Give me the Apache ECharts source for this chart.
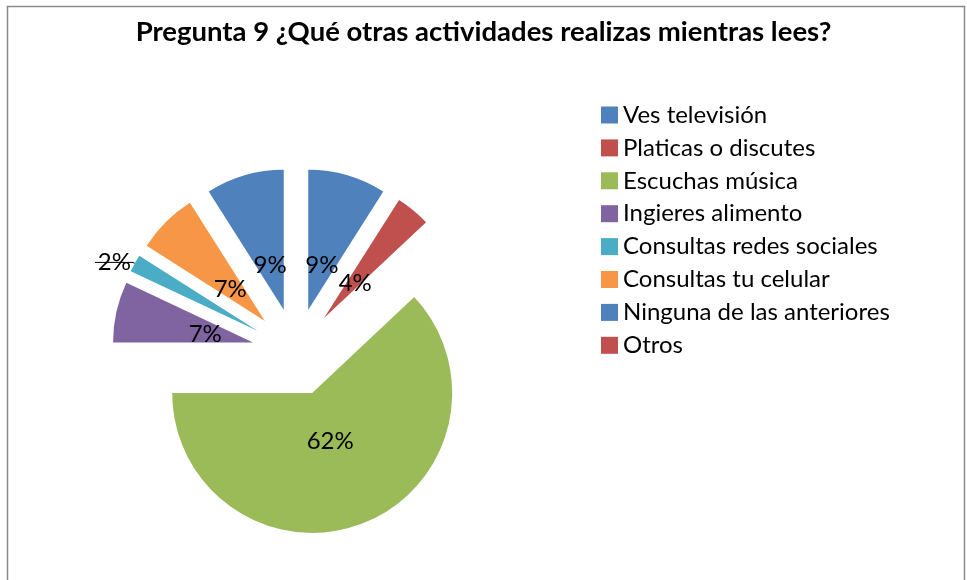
<!DOCTYPE html>
<html>
<head>
<meta charset="utf-8">
<script src="https://cdn.jsdelivr.net/npm/echarts@6/dist/echarts.min.js"></script>
<style>
  html, body { margin: 0; padding: 0; background: #fff; }
  #chart { width: 967px; height: 580px; }
</style>
</head>
<body>
<div id="chart"></div>
<script>
// categorías y porcentajes
const categories = [
  'Ves televisión',
  'Platicas o discutes',
  'Escuchas música',
  'Ingieres alimento',
  'Consultas redes sociales',
  'Consultas tu celular',
  'Ninguna de las anteriores',
  'Otros'
]
const values = [9, 4, 62, 7, 2, 7, 9, 0]
const colors = ['#4F81BD', '#C0504D', '#9BBB59', '#8064A2', '#4BACC6', '#F79646', '#4F81BD', '#C0504D']

const FONT = 'Lato, "Open Sans", sans-serif'
const CENTER = [296, 352]

const chart = echarts.init(document.getElementById('chart'))

// serie visible: porciones separadas
const sliceData = categories.map((name, i) => ({
  name,
  value: values[i],
  selected: true,
  itemStyle: { color: colors[i] },
  // solo el 2% lleva etiqueta exterior con línea guía
  label: { show: values[i] === 2 },
  labelLine: { show: values[i] === 2 }
}))

// serie transparente solo para ubicar las etiquetas interiores
const labelData = categories.map((name, i) => ({
  name,
  value: values[i],
  label: { show: values[i] > 2 }
}))

const option = {
  animation: false,
  title: {
    text: 'Pregunta 9 ¿Qué otras actividades realizas mientras lees?',
    left: 'center',
    top: 13,
    textStyle: { fontFamily: FONT, fontSize: 27.5, fontWeight: 'bold', color: '#000' }
  },
  legend: {
    orient: 'vertical',
    left: 596,
    top: 98,
    itemWidth: 17,
    itemHeight: 17,
    itemGap: 8.9,
    icon: 'rect',
    data: categories,
    textStyle: { fontFamily: FONT, fontSize: 24, color: '#000', lineHeight: 24 }
  },
  graphic: [{
    type: 'rect',
    shape: { x: 7.5, y: 6.5, width: 957, height: 600 },
    style: { fill: 'none', stroke: '#8a8a8a', lineWidth: 1.5 },
    silent: true
  }],
  series: [
    {
      type: 'pie',
      z: 2,
      center: CENTER,
      radius: 140,
      startAngle: 90,
      selectedMode: 'multiple',
      selectedOffset: 44,
      emphasis: { scale: false },
      itemStyle: { borderWidth: 0 },
      label: {
        position: 'outside',
        formatter: '{c}%',
        fontFamily: FONT,
        fontSize: 24,
        color: '#000',
        distanceToLabelLine: -36
      },
      labelLine: {
        length: 2,
        length2: 38,
        lineStyle: { color: '#000', width: 1 }
      },
      data: sliceData
    },
    {
      type: 'pie',
      z: 5,
      center: [CENTER[0], CENTER[1] + 3],
      radius: 180,
      startAngle: 90,
      silent: true,
      itemStyle: { color: 'rgba(0,0,0,0)', borderWidth: 0 },
      label: {
        position: 'inside',
        formatter: '{c}%',
        fontFamily: FONT,
        fontSize: 24,
        color: '#000'
      },
      labelLine: { show: false },
      labelLayout: { hideOverlap: false },
      data: labelData
    }
  ]
}

chart.setOption(option)
</script>
</body>
</html>
